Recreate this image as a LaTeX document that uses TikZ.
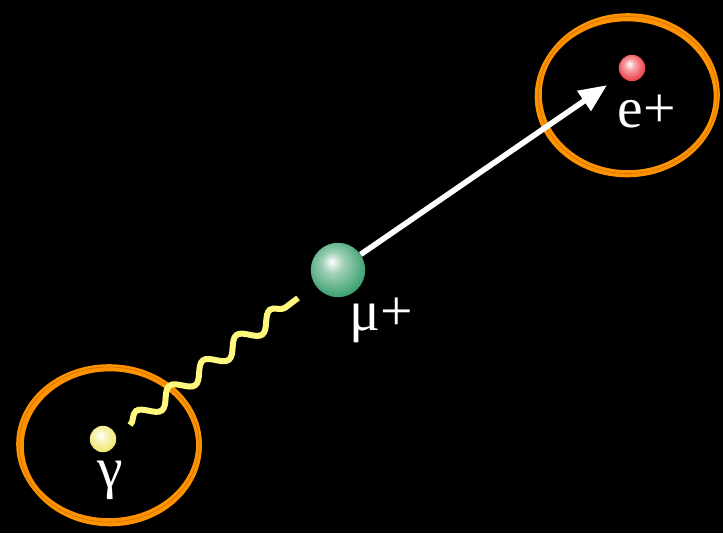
\documentclass[tikz,border=0pt]{standalone}
\usepackage{fontspec}
\setmainfont{Liberation Serif}
\usepackage{tikz}
\usetikzlibrary{
    arrows.meta,
    positioning,
    decorations.pathmorphing
}
\definecolor{ringorange}{RGB}{255,146,0}
\definecolor{muongreen}{RGB}{40,150,95}
\definecolor{posred}{RGB}{235,50,60}
\definecolor{photyellow}{RGB}{255,248,125}
\definecolor{ballyellow}{RGB}{240,228,95}
\pgfdeclareradialshading{muball}{\pgfpoint{-6bp}{8bp}}{%
  color(0bp)=(white); color(10bp)=(muongreen!45); color(26bp)=(muongreen!85);
  color(34bp)=(muongreen); color(50bp)=(muongreen)}
\pgfdeclareradialshading{eball}{\pgfpoint{-5bp}{8bp}}{%
  color(0bp)=(white); color(10bp)=(posred!45); color(26bp)=(posred!90);
  color(34bp)=(posred); color(50bp)=(posred)}
\pgfdeclareradialshading{gball}{\pgfpoint{-5bp}{8bp}}{%
  color(0bp)=(white); color(12bp)=(ballyellow!45); color(28bp)=(ballyellow!90);
  color(36bp)=(ballyellow); color(50bp)=(ballyellow)}

\begin{document}
\begin{tikzpicture}[
  x=0.025cm, y=-0.025cm,
  ball/.style={circle, inner sep=0pt, draw=none},
  lbl/.style={text=white, inner sep=0pt, anchor=base,
              font=\fontsize{41}{41}\selectfont},
  ring/.style={draw=ringorange, line width=0.14cm},
  thinring/.style={draw=ringorange!70!black, line width=0.015cm, opacity=0.7},
  arr/.style={-{Triangle[length=0.7cm, width=0.58cm]}, white,
              line width=0.14cm, shorten >=0.42cm},
  wave/.style={photyellow, line width=0.15cm,
               decoration={snake, segment length=1.05cm, amplitude=0.19cm},
               decorate}
]

% background
\fill[black] (0,0) rectangle (723,533);

% brushed rings
\draw[ring] (109,444) ellipse [x radius=90, y radius=77];
\draw[ring] (110,446) ellipse [x radius=89, y radius=77.5];
\draw[thinring] (109,444.5) ellipse [x radius=90, y radius=77.5];
\draw[ring] (628,94.5) ellipse [x radius=89, y radius=78.5];
\draw[ring] (627,96.5) ellipse [x radius=89.5, y radius=78];
\draw[thinring] (628,95) ellipse [x radius=89.5, y radius=78.5];

% particles
\node[ball, shading=muball, minimum size=1.36cm] (mu) at (338,270) {};
\node[ball, shading=eball, minimum size=0.66cm] (pos) at (632,68) {};
\node[ball, shading=gball, minimum size=0.66cm] (gam) at (103,439) {};

\node[lbl] (mulbl) at (381,330) {μ+};
\node[lbl] (poslbl) at (647,127) {e+};
\node[lbl] (gamlbl) at (110,487) {γ};

% decay products
\draw[arr] (mu) -- (pos);

\coordinate (wstart) at (130,425);
\coordinate (wend) at (298,298);
\draw[wave] (wstart) -- (wend);

\end{tikzpicture}
\end{document}
